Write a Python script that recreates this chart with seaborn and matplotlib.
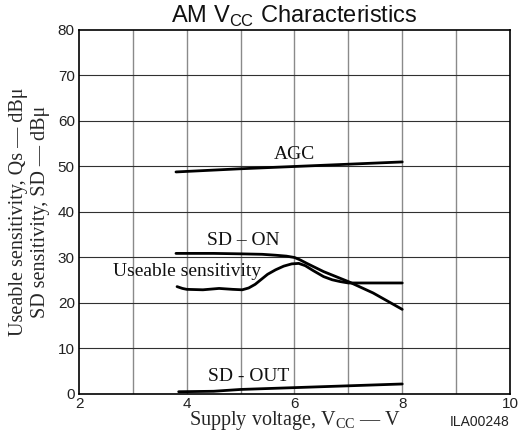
import matplotlib
matplotlib.use("Agg")
import matplotlib.pyplot as plt
import seaborn as sns
import pandas as pd

# ---- data ----
agc_x = [3.8, 5.0, 6.0, 7.0, 8.0]
agc_y = [48.8, 49.5, 50.0, 50.5, 51.0]

sd_on_x = [3.8, 4.5, 5.0, 5.4, 5.65, 5.85, 6.0, 6.1, 6.23, 6.54, 7.0, 7.46, 8.0]
sd_on_y = [30.9, 30.9, 30.8, 30.7, 30.5, 30.3, 30.0, 29.5, 28.7, 26.9, 24.7, 22.2, 18.6]

use_x = [3.82, 3.92, 4.0, 4.3, 4.6, 4.85, 5.03, 5.15, 5.27, 5.5, 5.65, 5.8, 5.95, 6.08, 6.2, 6.35, 6.54, 6.7, 6.85, 7.0, 7.5, 8.0]
use_y = [23.6, 23.2, 23.0, 22.9, 23.2, 23.0, 22.9, 23.3, 24.1, 26.3, 27.3, 28.1, 28.6, 28.7, 28.2, 27.1, 25.8, 25.1, 24.7, 24.4, 24.4, 24.4]

sd_out_x = [3.85, 4.5, 5.0, 6.0, 7.0, 8.0]
sd_out_y = [0.5, 0.6, 1.0, 1.4, 1.8, 2.2]

x_ticks = [2, 4, 6, 8, 10]
y_ticks = [0, 10, 20, 30, 40, 50, 60, 70, 80]

labels = ["AGC", "SD – ON", "Useable sensitivity", "SD - OUT"]
label_x = [6.0, 5.05, 4.0, 5.15]
label_y = [52.7, 33.8, 27.0, 3.9]

sns.set_theme(style="white")
plt.rcParams["font.family"] = ["Liberation Sans", "DejaVu Sans"]
plt.rcParams["mathtext.fontset"] = "custom"
plt.rcParams["mathtext.rm"] = "Liberation Serif"
plt.rcParams["mathtext.sf"] = "Liberation Sans"

frames = []
for name, xs, ys in [("AGC", agc_x, agc_y), ("SD-ON", sd_on_x, sd_on_y),
                     ("Useable", use_x, use_y), ("SD-OUT", sd_out_x, sd_out_y)]:
    frames.append(pd.DataFrame({"V": xs, "S": ys, "series": name}))
df = pd.concat(frames, ignore_index=True)

fig = plt.figure(figsize=(5.32, 4.37), dpi=100)
ax = fig.add_axes([0.1485, 0.0984, 0.8101, 0.833])

for x in range(3, 10):
    ax.axvline(x, color="#8a8a8a", lw=1.0, zorder=1)
for y in range(10, 80, 10):
    ax.axhline(y, color="#303030", lw=0.8, zorder=1)

for name in ["AGC", "SD-ON", "Useable", "SD-OUT"]:
    sub = df[df["series"] == name]
    sns.lineplot(data=sub, x="V", y="S", ax=ax, color="black", lw=2.0,
                 sort=False, estimator=None, zorder=3)

serif = ["Liberation Serif", "DejaVu Serif"]
for t, xx, yy in zip(labels, label_x, label_y):
    ax.text(xx, yy, t, ha="center", va="center", fontsize=14, family=serif, color="#111111")

ax.set_xlim(2, 10)
ax.set_ylim(0, 80)
ax.set_xticks(x_ticks)
ax.set_yticks(y_ticks)
ax.tick_params(axis="both", length=0, labelsize=11, colors="#222222", pad=3)
ax.tick_params(axis="x", pad=2)
for s in ax.spines.values():
    s.set_color("black")
    s.set_linewidth(1.2)

ax.set_xlabel(r"Supply voltage, V$_{\mathrm{CC}}$ — V", family=serif, fontsize=14.5, labelpad=-1)
ax.set_ylabel("Useable sensitivity, Qs — dBμ\nSD sensitivity, SD — dBμ", family=serif,
              fontsize=14.5, labelpad=6, linespacing=1.15)
ax.set_title(r"AM V$_{\mathsf{CC}}$ Characteristics", fontsize=17, pad=5, color="#111111")
fig.text(0.958, 0.034, "ILA00248", ha="right", va="center", fontsize=10, color="#222222")

fig.savefig("out.png", dpi=100)
